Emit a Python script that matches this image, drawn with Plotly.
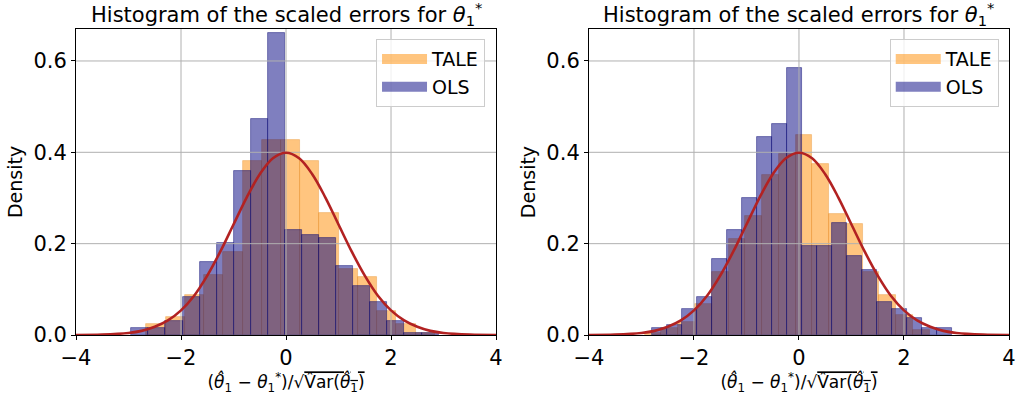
import plotly.graph_objects as go
from plotly.subplots import make_subplots

# ---------------- data ----------------
# Left panel
tale_left_first_edge = -2.661
tale_left_bin_width = 0.3665
tale_left_density = [0.024, 0.040, 0.088, 0.132, 0.181, 0.380, 0.428, 0.428,
                     0.382, 0.268, 0.145, 0.128, 0.053, 0.024, 0.005]

ols_left_first_edge = -2.947
ols_left_bin_width = 0.3252
ols_left_density = [0.016, 0.016, 0.031, 0.084, 0.159, 0.202, 0.359, 0.474,
                    0.661, 0.229, 0.220, 0.213, 0.150, 0.108, 0.073, 0.030,
                    0.005, 0.005]

# Right panel
tale_right_first_edge = -2.94
tale_right_bin_width = 0.3194
tale_right_density = [0.005, 0.015, 0.028, 0.067, 0.137, 0.210, 0.260, 0.350,
                      0.396, 0.438, 0.375, 0.264, 0.243, 0.137, 0.088, 0.044,
                      0.010]

ols_right_first_edge = -2.792
ols_right_bin_width = 0.2857
ols_right_density = [0.016, 0.023, 0.056, 0.084, 0.167, 0.231, 0.301, 0.433,
                     0.461, 0.584, 0.194, 0.194, 0.246, 0.172, 0.143, 0.073,
                     0.056, 0.038, 0.016, 0.016]

# Reference density curve
curve_x = [-4.0, -3.5, -3.0, -2.75, -2.5, -2.25, -2.0, -1.75, -1.5, -1.25,
           -1.0, -0.75, -0.5, -0.25, 0.0, 0.25, 0.5, 0.75, 1.0, 1.25, 1.5,
           1.75, 2.0, 2.25, 2.5, 2.75, 3.0, 3.5, 4.0]
curve_y = [0.0001, 0.0009, 0.0044, 0.009, 0.018, 0.032, 0.054, 0.086, 0.130,
           0.183, 0.242, 0.301, 0.352, 0.387, 0.399, 0.387, 0.352, 0.301,
           0.242, 0.183, 0.130, 0.086, 0.054, 0.032, 0.018, 0.009, 0.0044,
           0.0009, 0.0001]

series_names = ["TALE", "OLS"]
x_ticks = [-4, -2, 0, 2, 4]
x_tick_labels = ["\u22124", "\u22122", "0", "2", "4"]
y_ticks = [0.0, 0.2, 0.4, 0.6]
y_tick_labels = ["0.0", "0.2", "0.4", "0.6"]
x_range = [-4, 4]
y_range = [0, 0.67]

title_text = "Histogram of the scaled errors for <i>\u03b8</i><sub>1</sub><sup>*</sup>"
x_label = ("(<i>\u03b8\u0302</i><sub>1</sub> \u2212 <i>\u03b8</i><sub>1</sub><sup>*</sup>)/\u221a"
           "<span style='text-decoration:overline'>V\u0302ar(<i>\u03b8\u0302</i><sub>1</sub>)</span>")
y_label = "Density"

# ---------------- styles ----------------
FONT = "DejaVu Sans"
ORANGE = "rgba(255,140,0,0.5)"
ORANGE_EDGE = "rgba(220,120,0,0.35)"
NAVY = "rgba(0,0,128,0.5)"
NAVY_EDGE = "rgba(0,0,110,0.55)"
RED = "firebrick"
GRID = "#b0b0b0"
FILLS = [ORANGE, NAVY]
EDGES = [ORANGE_EDGE, NAVY_EDGE]


def left_edges(first, width, n):
    return [first + i * width for i in range(n)]


fig = make_subplots(rows=1, cols=2, horizontal_spacing=0.0996)

panels = [
    (1, "legend", [(tale_left_first_edge, tale_left_bin_width, tale_left_density),
                   (ols_left_first_edge, ols_left_bin_width, ols_left_density)]),
    (2, "legend2", [(tale_right_first_edge, tale_right_bin_width, tale_right_density),
                    (ols_right_first_edge, ols_right_bin_width, ols_right_density)]),
]

for col, leg, hists in panels:
    for k, (first, width, dens) in enumerate(hists):
        fig.add_trace(go.Bar(
            x=left_edges(first, width, len(dens)), y=dens, width=width, offset=0,
            name=series_names[k], showlegend=False, hoverinfo="skip",
            marker=dict(color=FILLS[k], line=dict(color=EDGES[k], width=0.8)),
        ), row=1, col=col)
    # grid lines (above the bars, below the curve, as in matplotlib)
    for v in x_ticks[1:-1]:
        fig.add_trace(go.Scatter(x=[v, v], y=y_range, mode="lines",
                                 line=dict(color=GRID, width=1),
                                 hoverinfo="skip", showlegend=False),
                      row=1, col=col)
    for v in y_ticks[1:]:
        fig.add_trace(go.Scatter(x=x_range, y=[v, v], mode="lines",
                                 line=dict(color=GRID, width=1),
                                 hoverinfo="skip", showlegend=False),
                      row=1, col=col)
    fig.add_trace(go.Scatter(x=curve_x, y=curve_y, mode="lines",
                             line=dict(color=RED, width=2.6, shape="spline"),
                             hoverinfo="skip", showlegend=False),
                  row=1, col=col)
    # legend swatches (wide rectangles like matplotlib patches)
    for k in range(2):
        fig.add_trace(go.Scatter(x=[None], y=[None], mode="lines",
                                 line=dict(color=FILLS[k], width=14),
                                 name=series_names[k], legend=leg,
                                 showlegend=True),
                      row=1, col=col)

axis_common = dict(showline=True, mirror=True, linecolor="black", linewidth=1,
                   ticks="outside", ticklen=4, tickwidth=1, tickcolor="black",
                   showgrid=False, zeroline=False, automargin=False,
                   tickfont=dict(family=FONT, size=21, color="black"))

for col in (1, 2):
    fig.update_xaxes(range=x_range, tickvals=x_ticks, ticktext=x_tick_labels,
                     title=dict(text=x_label, font=dict(family=FONT, size=17, color="black"),
                                standoff=4),
                     row=1, col=col, **axis_common)
    fig.update_yaxes(range=y_range, tickvals=y_ticks, ticktext=y_tick_labels,
                     title=dict(text=y_label, font=dict(family=FONT, size=19, color="black"),
                                standoff=5),
                     row=1, col=col, **axis_common)

annotations = []
for xr, yr in (("x domain", "y domain"), ("x2 domain", "y2 domain")):
    annotations.append(dict(text=title_text, x=0.5, y=1, xref=xr, yref=yr,
                            xanchor="center", yanchor="bottom", yshift=-2,
                            showarrow=False,
                            font=dict(family=FONT, size=21, color="black")))

legend_common = dict(xanchor="right", yanchor="top", y=0.967,
                     bgcolor="rgba(255,255,255,0.8)", bordercolor="#cccccc",
                     borderwidth=1, font=dict(family=FONT, size=19, color="black"),
                     tracegroupgap=0, itemwidth=45)

fig.update_layout(
    width=1017, height=404,
    margin=dict(l=76, r=8, t=29, b=69),
    paper_bgcolor="white", plot_bgcolor="white",
    barmode="overlay", bargap=0,
    font=dict(family=FONT, color="black"),
    annotations=annotations,
    legend=dict(x=0.4384, **legend_common),
    legend2=dict(x=0.989, **legend_common),
)

# remove the default 8 px page margin so the figure fills the window exactly
fig.write_html("out.html",
               config={"displayModeBar": False},
               post_script="document.body.style.margin='0px';document.body.style.overflow='hidden';")
